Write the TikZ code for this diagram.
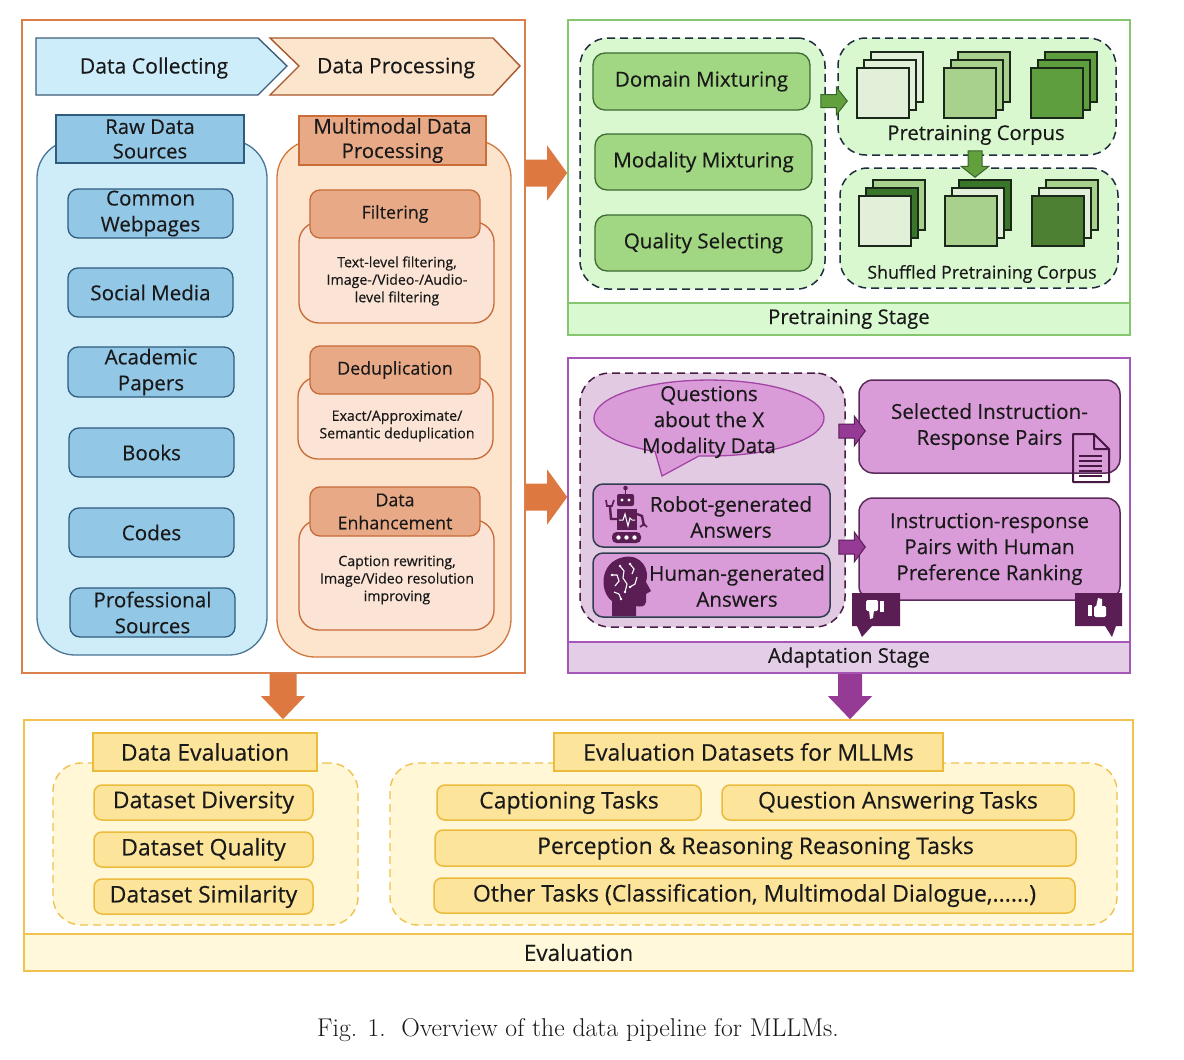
\documentclass[tikz,border=0pt]{standalone}
\usepackage{fontspec}
\setmainfont{Open Sans}[FakeBold=0.3]
\newfontfamily\capfont{Latin Modern Roman}
\usetikzlibrary{arrows.meta,calc}
\definecolor{obord}{HTML}{D9804D}
\definecolor{oarrowc}{HTML}{DC7840}
\definecolor{iconc}{HTML}{5A1E55}
\definecolor{sqL}{RGB}{226,240,217}
\definecolor{sqM}{RGB}{169,209,142}
\definecolor{sqD}{RGB}{95,158,62}
\definecolor{sqX}{RGB}{58,118,42}
\definecolor{sqY}{RGB}{78,128,52}
\newcommand\bx[7]{\node[#2, minimum width={(#5-#3)*1pt}, minimum height={(#6-#4)*1pt}] (#1) at ({(#3+#5)/2},{(#4+#6)/2}) {#7};}
\newcommand\rarrow[6]{\draw[#1] ($(#2)+(0,-#4)$) -- ($(#3)+(-#6,-#4)$) -- ($(#3)+(-#6,-#5)$) -- (#3) -- ($(#3)+(-#6,#5)$) -- ($(#3)+(-#6,#4)$) -- ($(#2)+(0,#4)$) -- cycle;}
\newcommand\darrow[6]{\draw[#1] ($(#2)+(-#4,0)$) -- ($(#3)+(-#4,-#6)$) -- ($(#3)+(-#5,-#6)$) -- (#3) -- ($(#3)+(#5,-#6)$) -- ($(#3)+(#4,-#6)$) -- ($(#2)+(#4,0)$) -- cycle;}
\newcommand\sqr[3]{\draw[sq, fill=#3] (#1,#2) rectangle ++(52,50);}
\begin{document}
\begin{tikzpicture}[x=1pt,y=-1pt,
  every node/.style={inner sep=0pt, align=center, text=black!90},
  f13/.style={font=\fontsize{14.2}{17.5}\selectfont},
  f16/.style={font=\fontsize{17.8}{23}\selectfont},
  f19/.style={font=\fontsize{20.3}{24.5}\selectfont},
  f20/.style={font=\fontsize{20.6}{26}\selectfont},
  f21/.style={font=\fontsize{21.2}{26}\selectfont},
  f22/.style={font=\fontsize{23}{27}\selectfont},
  obox/.style={draw=obord, line width=1.4, fill=white},
  rawcont/.style={draw={rgb,255:red,74;green,117;blue,148}, fill={rgb,255:red,207;green,236;blue,249}, line width=1.3, rounded corners=38},
  rawhead/.style={draw={rgb,255:red,47;green,92;blue,125}, fill={rgb,255:red,147;green,199;blue,230}, line width=1.6, f19},
  rawitem/.style={draw={rgb,255:red,47;green,92;blue,125}, fill={rgb,255:red,147;green,199;blue,230}, line width=1.3, rounded corners=10, f20},
  mmcont/.style={draw={rgb,255:red,210;green,119;blue,63}, fill={rgb,255:red,252;green,229;blue,204}, line width=1.3, rounded corners=38},
  mmhead/.style={draw={rgb,255:red,204;green,109;blue,56}, fill={rgb,255:red,232;green,170;blue,134}, line width=1.6, f19},
  phead/.style={draw={rgb,255:red,200;green,106;blue,56}, fill={rgb,255:red,232;green,170;blue,134}, line width=1.3, rounded corners=10, f16},
  pbody/.style={draw={rgb,255:red,200;green,106;blue,56}, fill={rgb,255:red,251;green,228;blue,213}, line width=1.3, rounded corners=20},
  oarr/.style={fill=oarrowc, draw=none},
  gbox/.style={draw={rgb,255:red,134;green,198;blue,110}, line width=1.6, fill=white},
  gband/.style={draw={rgb,255:red,134;green,198;blue,110}, fill={rgb,255:red,217;green,250;blue,209}, line width=1.6, f19},
  gdash/.style={draw={rgb,255:red,30;green,46;blue,62}, fill={rgb,255:red,217;green,248;blue,207}, line width=1.5, dash pattern=on 8pt off 5pt, rounded corners=28},
  gitem/.style={draw={rgb,255:red,61;green,107;blue,50}, fill={rgb,255:red,161;green,215;blue,130}, line width=1.3, rounded corners=12, f20},
  garr/.style={fill={rgb,255:red,98;green,160;blue,62}, draw={rgb,255:red,55;green,100;blue,40}, line width=1},
  sq/.style={draw={rgb,255:red,25;green,40;blue,25}, line width=1.3},
  pbox/.style={draw={rgb,255:red,166;green,86;blue,182}, line width=1.6, fill=white},
  pband/.style={draw={rgb,255:red,166;green,86;blue,182}, fill={rgb,255:red,228;green,205;blue,231}, line width=1.6, f19},
  pdash/.style={draw={rgb,255:red,74;green,29;blue,71}, fill={rgb,255:red,227;green,202;blue,227}, line width=1.5, dash pattern=on 8pt off 5pt, rounded corners=30},
  pitem/.style={draw={rgb,255:red,46;green,62;blue,80}, fill={rgb,255:red,218;green,156;blue,216}, line width=1.5, rounded corners=10},
  pright/.style={draw={rgb,255:red,90;green,42;blue,90}, fill={rgb,255:red,218;green,156;blue,216}, line width=1.5, rounded corners=14, f20},
  bubble/.style={draw={rgb,255:red,164;green,69;blue,166}, fill={rgb,255:red,218;green,156;blue,216}, line width=1.3},
  parr/.style={fill={rgb,255:red,149;green,58;blue,149}, draw={rgb,255:red,90;green,30;blue,88}, line width=1},
  pdarr/.style={fill={rgb,255:red,149;green,58;blue,149}, draw=none},
  ebox/.style={draw={rgb,255:red,241;green,194;blue,78}, line width=1.6, fill=white},
  eband/.style={draw={rgb,255:red,241;green,194;blue,78}, fill={rgb,255:red,255;green,248;blue,218}, line width=1.6, font=\fontsize{22.5}{26}\selectfont},
  edash/.style={draw={rgb,255:red,241;green,194;blue,78}, fill={rgb,255:red,255;green,247;blue,214}, line width=1.4, dash pattern=on 8pt off 5pt, rounded corners=28},
  ehead/.style={draw={rgb,255:red,236;green,187;blue,59}, fill={rgb,255:red,252;green,228;blue,155}, line width=1.5, f22},
  eitem/.style={draw={rgb,255:red,236;green,187;blue,59}, fill={rgb,255:red,252;green,228;blue,155}, line width=1.5, rounded corners=8, f22},
]
\useasboundingbox (0,0) rectangle (1184,1060);
\fill[white] (0,0) rectangle (1184,1060);

% ================= Data collecting / processing =================
\bx{collect}{obox}{22}{20}{525}{673}{}
\draw[draw={rgb,255:red,63;green,95;blue,120}, fill={rgb,255:red,205;green,237;blue,250}, line width=1.4]
  (36,38) -- (258,38) -- (287,66) -- (258,95) -- (36,95) -- cycle;
\draw[draw={rgb,255:red,168;green,88;blue,44}, fill={rgb,255:red,252;green,229;blue,205}, line width=1.4]
  (270,38) -- (493,38) -- (520,66) -- (493,95) -- (270,95) -- (299,66) -- cycle;
\node[f21] (dcol) at (154,68) {Data Collecting};
\node[f21] (dproc) at (396,68) {Data Processing};

\bx{rawc}{rawcont}{37}{140}{267}{655}{}
\bx{rawh}{rawhead}{56}{115}{244}{163}{Raw Data\\Sources}
\bx{web}{rawitem}{68}{189}{233}{238}{Common\\Webpages}
\bx{soc}{rawitem}{68}{268}{233}{317}{Social Media}
\bx{aca}{rawitem}{68}{347}{234}{397}{Academic\\Papers}
\bx{book}{rawitem}{69}{428}{234}{477}{Books}
\bx{code}{rawitem}{69}{508}{234}{557}{Codes}
\bx{prof}{rawitem}{70}{588}{235}{637}{Professional\\Sources}

\bx{mmc}{mmcont}{277}{140}{511}{657}{}
\bx{mmh}{mmhead}{299}{116}{486}{165}{Multimodal Data\\Processing}
\bx{filb}{pbody}{299}{222}{494}{323}{}
\bx{filh}{phead}{310}{190}{480}{238}{Filtering}
\node[f13] (filt) at (397,281) {Text-level filtering,\\Image-/Video-/Audio-\\level filtering};
\bx{dedb}{pbody}{298}{377}{493}{459}{}
\bx{dedh}{phead}{310}{346}{480}{394}{Deduplication}
\node[f13] (dedt) at (397,426) {Exact/Approximate/\\Semantic deduplication};
\bx{enhb}{pbody}{299}{520}{494}{630}{}
\bx{enhh}{phead}{310}{487}{480}{536}{Data\\Enhancement}
\node[f13] (enht) at (397,580) {Caption rewriting,\\Image/Video resolution\\improving};

% ================= Pretraining stage =================
\bx{pre}{gbox}{568}{20}{1130}{335}{}
\bx{preband}{gband}{568}{303}{1130}{335}{Pretraining Stage}
\bx{mixc}{gdash}{580}{38}{825}{289}{}
\bx{dom}{gitem}{593}{53}{810}{110}{Domain Mixturing}
\bx{mod}{gitem}{595}{134}{812}{190}{Modality Mixturing}
\bx{qual}{gitem}{595}{215}{812}{271}{Quality Selecting}
\bx{corp}{gdash}{838}{38}{1116}{155}{}
\bx{shuf}{gdash}{840}{168}{1118}{288}{}
% corpus stacks
\sqr{871}{52}{sqL}\sqr{864}{60}{sqL}\sqr{857}{68}{sqL}
\sqr{958}{52}{sqM}\sqr{951}{60}{sqM}\sqr{944}{68}{sqM}
\sqr{1045}{52}{sqD}\sqr{1038}{60}{sqD}\sqr{1031}{68}{sqD}
\node[f19] (corpt) at (976,135) {Pretraining Corpus};
% shuffled stacks
\sqr{873}{180}{sqM}\sqr{866}{188}{sqX}\sqr{859}{196}{sqL}
\sqr{959}{180}{sqX}\sqr{952}{188}{sqL}\sqr{945}{196}{sqM}
\sqr{1046}{180}{sqM}\sqr{1039}{188}{sqL}\sqr{1032}{196}{sqY}
\node[f16] (shuft) at (982,274) {Shuffled Pretraining Corpus};

% ================= Adaptation stage =================
\bx{ada}{pbox}{568}{358}{1130}{673}{}
\bx{adaband}{pband}{568}{642}{1130}{673}{Adaptation Stage}
\bx{qac}{pdash}{580}{373}{845}{627}{}
\draw[bubble] (662,476) -- (699,455.9) arc[start angle=95, end angle=-242, x radius=115, y radius=38] -- cycle;
\node[f20] (quest) at (709,422) {Questions\\about the X\\Modality Data};
\bx{robot}{pitem}{593}{484}{830}{547}{}
\node[f20] (robott) at (731,517) {Robot-generated\\Answers};
\bx{human}{pitem}{593}{553}{830}{617}{}
\node[f20] (humant) at (737,586) {Human-generated\\Answers};
\bx{sel}{pright}{859}{380}{1120}{473}{Selected Instruction-\\Response Pairs}
\bx{pref}{pright}{859}{498}{1120}{600}{Instruction-response\\Pairs with Human\\Preference Ranking}

% robot icon
\fill[iconc, rounded corners=2] (617,494) rectangle (634,506);
\fill[white] (622,500) circle (1.7) (629,500) circle (1.7);
\draw[iconc, line width=1.6] (625.5,494) -- (625.5,489);
\fill[iconc] (625.5,488) circle (2.3);
\fill[iconc] (617,509) rectangle (637,530);
\draw[white, line width=1] (619,520) -- (623,520) -- (625,514) -- (628,526) -- (630,518) -- (632,520) -- (635,520);
\draw[iconc, line width=2.4] (617,519) -- (611,519) -- (610,507);
\draw[iconc, line width=1.7] (606,500) -- (607,506) -- (612,506) -- (614,500);
\draw[iconc, line width=2.4] (637,514) -- (642,516) -- (644,526);
\draw[iconc, line width=1.7] (640,527) -- (644,524) -- (647,527);
\fill[iconc, rounded corners=4.5] (612,532) rectangle (641,543);
\fill[white] (618.5,537.5) circle (2.2) (626.5,537.5) circle (2.2) (634.5,537.5) circle (2.2);

% human head icon
\fill[iconc] (612,616) -- (612,601) .. controls (600,593) and (598,562) .. (624,557)
  .. controls (642,554) and (650,570) .. (646,582) -- (651,591) -- (646,594) -- (646,602)
  .. controls (645,607) and (641,607) .. (636,606) -- (636,616) -- cycle;
\draw[white, line width=1.1] (612,575) -- (617,575) -- (619,581) -- (615,586)
  (620,566) -- (624,571) -- (623,578) -- (627,584) -- (625,592)
  (630,564) -- (634,569) -- (632,574) (614,592) -- (619,594) -- (621,599)
  (637,577) -- (635,584) -- (630,587);
\fill[white] (612,575) circle (1.3) (620,566) circle (1.3) (625,592) circle (1.3) (630,564) circle (1.3) (621,599) circle (1.3) (630,587) circle (1.3);

% document icon
\draw[iconc!80!black, line width=2, line join=round] (1073,434) -- (1094,434) -- (1109,449) -- (1109,482) -- (1073,482) -- cycle (1094,434) -- (1094,449) -- (1109,449);
\draw[iconc!80!black, line width=1.8] (1079,456) -- (1102,456) (1079,461) -- (1102,461) (1079,466) -- (1102,466) (1079,471) -- (1102,471) (1079,476) -- (1102,476);

% thumbs
\fill[iconc] (852,593) rectangle (900,626) (857,626) -- (862,637) -- (872,626) -- cycle;
\fill[white] (880,601) rectangle (884,612);
\fill[white, rounded corners=1.5] (866,600) rectangle (878,611);
\fill[white] (869,610) -- (870,619) -- (873,618) -- (874,610) -- cycle;
\fill[iconc] (1075,593) rectangle (1122,626) (1105,626) -- (1112,637) -- (1116,626) -- cycle;
\fill[white] (1088,605) rectangle (1092,616);
\fill[white, rounded corners=1.5] (1094,606) rectangle (1106,617);
\fill[white] (1096,607) -- (1098,598) -- (1102,599) -- (1102,607) -- cycle;

% ================= Evaluation =================
\bx{ev}{ebox}{24}{720}{1133}{971}{}
\bx{evband}{eband}{24}{934}{1133}{971}{Evaluation}
\bx{dec}{edash}{53}{763}{358}{925}{}
\bx{deh}{ehead}{93}{733}{317}{771}{Data Evaluation}
\bx{div}{eitem}{94}{785}{313}{820}{Dataset Diversity}
\bx{dq}{eitem}{94}{832}{313}{867}{Dataset Quality}
\bx{dsim}{eitem}{94}{879}{313}{914}{Dataset Similarity}
\bx{edc}{edash}{390}{763}{1117}{925}{}
\bx{edh}{ehead}{554}{733}{943}{771}{Evaluation Datasets for MLLMs}
\bx{cap}{eitem}{437}{785}{701}{820}{Captioning Tasks}
\bx{qa}{eitem}{722}{785}{1074}{820}{Question Answering Tasks}
\bx{perc}{eitem}{435}{830}{1076}{866}{Perception \& Reasoning Reasoning Tasks}
\bx{oth}{eitem}{434}{878}{1075}{913}{Other Tasks (Classification, Multimodal Dialogue,......)}

% ================= Arrows =================
\coordinate (ya) at (0,173);
\coordinate (yb) at (0,497);
\coordinate (xa) at (283,0);
\coordinate (xb) at (850,0);
\coordinate (yg) at (0,101);
\coordinate (xg) at (975,0);
\coordinate (yp1) at (0,431);
\coordinate (yp2) at (0,547);
\coordinate (a1s) at (collect.east |- ya);
\coordinate (a1e) at (pre.west |- ya);
\coordinate (a2s) at (collect.east |- yb);
\coordinate (a2e) at (ada.west |- yb);
\coordinate (a3s) at (collect.south -| xa);
\coordinate (a3e) at (ev.north -| xa);
\coordinate (a4s) at (ada.south -| xb);
\coordinate (a4e) at (ev.north -| xb);
\coordinate (g1s) at ($(mixc.east |- yg)+(-5,0)$);
\coordinate (g1e) at ($(corp.west |- yg)+(10,0)$);
\coordinate (g2s) at ($(corp.south -| xg)+(0,-5)$);
\coordinate (g2e) at ($(shuf.north -| xg)+(0,10)$);
\coordinate (p1s) at ($(qac.east |- yp1)+(-7,0)$);
\coordinate (p1e) at ($(sel.west |- yp1)+(7,0)$);
\coordinate (p2s) at ($(qac.east |- yp2)+(-7,0)$);
\coordinate (p2e) at ($(pref.west |- yp2)+(7,0)$);
\rarrow{oarr}{a1s}{a1e}{13.5}{27.5}{20}
\rarrow{oarr}{a2s}{a2e}{13.5}{27.5}{20}
\darrow{oarr}{a3s}{a3e}{13.5}{22}{23}
\darrow{pdarr}{a4s}{a4e}{12}{22}{23}
\rarrow{garr}{g1s}{g1e}{6.5}{14}{11}
\darrow{garr}{g2s}{g2e}{7}{14}{11}
\rarrow{parr}{p1s}{p1e}{7}{15}{11}
\rarrow{parr}{p2s}{p2e}{7}{15}{11}

% caption
\node[font=\capfont\fontsize{25.7}{29}\selectfont] (caption) at (578,1030) {Fig. 1.\ \ Overview of the data pipeline for MLLMs.};
\end{tikzpicture}
\end{document}
